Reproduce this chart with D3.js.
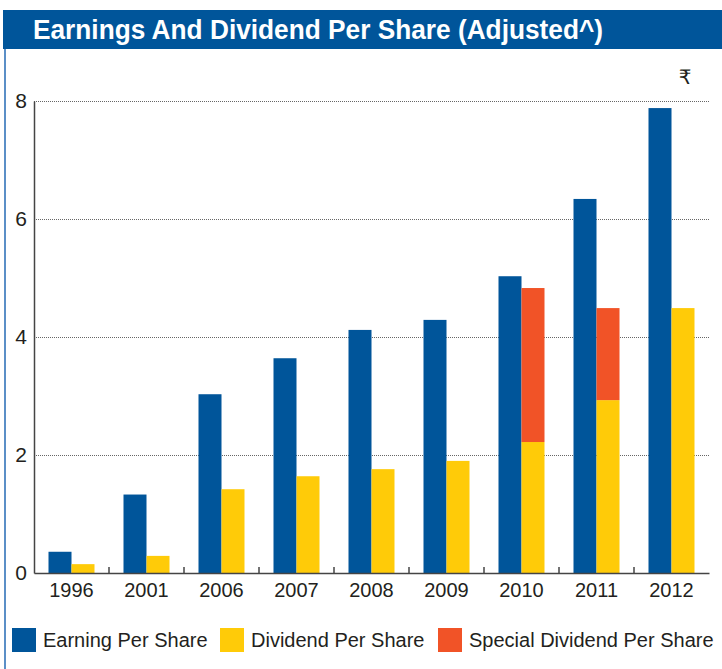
<!DOCTYPE html>
<html>
  <head>
    <meta charset="utf-8">
    <title>Earnings And Dividend Per Share</title>
    <script src="https://d3js.org/d3.v7.min.js"></script>
    <style>
      body { margin: 0; background: #fff; }
      text { font-family: "Liberation Sans", Arial, sans-serif; fill: #231f20; }
    </style>
  </head>
  <body>
    <div id="my_dataviz"></div>
    <script>
    // data
    var years = ["1996", "2001", "2006", "2007", "2008", "2009", "2010", "2011", "2012"]
    var eps = [0.36, 1.33, 3.03, 3.64, 4.12, 4.29, 5.03, 6.34, 7.88]
    var dps = [0.15, 0.29, 1.42, 1.64, 1.76, 1.90, 2.22, 2.93, 4.49]
    var special = [0, 0, 0, 0, 0, 0, 2.61, 1.56, 0]
    var yTicks = [0, 2, 4, 6, 8]
    var legendLabels = ["Earning Per Share", "Dividend Per Share", "Special Dividend Per Share"]

    var blue = "#00559a", yellow = "#ffcb08", orange = "#f15327"
    var width = 722, height = 669

    var svg = d3.select("#my_dataviz")
      .append("svg")
        .attr("width", width)
        .attr("height", height)

    // title band + left frame line
    svg.append("rect")
      .attr("x", 3).attr("y", 10).attr("width", width - 3).attr("height", 39)
      .attr("fill", blue)
    svg.append("text")
      .attr("x", 33).attr("y", 39)
      .attr("textLength", 570)
      .attr("lengthAdjust", "spacingAndGlyphs")
      .style("font-weight", "bold")
      .style("font-size", "27px")
      .style("fill", "#fff")
      .text("Earnings And Dividend Per Share (Adjusted^)")
    svg.append("line")
      .attr("x1", 5).attr("x2", 5).attr("y1", 49).attr("y2", height)
      .attr("stroke", "#5b8fc7").attr("stroke-width", 2)

    var plotLeft = 34, plotRight = 709, plotTop = 101, plotBottom = 573

    var x = d3.scaleBand().domain(years).range([plotLeft, plotRight])
    var y = d3.scaleLinear().domain([0, 8]).range([plotBottom, plotTop])
    var barW = 23

    var g = svg.append("g")

    // dotted gridlines
    g.selectAll(".grid")
      .data(yTicks.filter(function(d) { return d > 0 }))
      .enter().append("line")
        .attr("x1", plotLeft).attr("x2", plotRight)
        .attr("y1", function(d) { return y(d) + 0.5 })
        .attr("y2", function(d) { return y(d) + 0.5 })
        .attr("stroke", "#666")
        .attr("stroke-dasharray", "1,1")

    // y axis
    var yAxis = g.append("g")
      .attr("transform", "translate(" + plotLeft + ",0)")
      .call(d3.axisLeft(y).tickValues(yTicks).tickSize(0).tickPadding(7).tickFormat(d3.format("d")))
    yAxis.select(".domain").attr("stroke", "#444").attr("stroke-width", 1.5)
    yAxis.selectAll("text").style("font-size", "21px").style("fill", "#231f20")
      .attr("font-family", null)

    // bars
    var grp = g.selectAll(".yr")
      .data(years)
      .enter().append("g")
        .attr("transform", function(d) { return "translate(" + (x(d) + x.bandwidth() / 2) + ",0)" })

    grp.append("rect")
      .attr("x", -barW)
      .attr("width", barW)
      .attr("y", function(d, i) { return y(eps[i]) })
      .attr("height", function(d, i) { return plotBottom - y(eps[i]) })
      .attr("fill", blue)
    grp.append("rect")
      .attr("x", 0)
      .attr("width", barW)
      .attr("y", function(d, i) { return y(dps[i]) })
      .attr("height", function(d, i) { return plotBottom - y(dps[i]) })
      .attr("fill", yellow)
    grp.filter(function(d, i) { return special[i] > 0 })
      .append("rect")
      .attr("x", 0)
      .attr("width", barW)
      .attr("y", function(d) { var i = years.indexOf(d); return y(dps[i] + special[i]) })
      .attr("height", function(d) { var i = years.indexOf(d); return y(dps[i]) - y(dps[i] + special[i]) })
      .attr("fill", orange)

    // x axis
    var xAxis = g.append("g")
      .attr("transform", "translate(0," + plotBottom + ")")
      .call(d3.axisBottom(x).tickSize(0).tickPadding(10))
    xAxis.select(".domain").attr("stroke", "#444").attr("stroke-width", 1.5)
    xAxis.selectAll("text").style("font-size", "20px").style("fill", "#231f20")
      .attr("font-family", null)
    // separator ticks between years
    xAxis.selectAll(".sep")
      .data(years.slice(1))
      .enter().append("line")
        .attr("x1", function(d) { return x(d) }).attr("x2", function(d) { return x(d) })
        .attr("y1", 0).attr("y2", -6)
        .attr("stroke", "#444").attr("stroke-width", 1.5)

    // rupee unit
    svg.append("text")
      .attr("x", 685).attr("y", 84)
      .attr("text-anchor", "middle")
      .style("font-family", "'DejaVu Sans', sans-serif")
      .style("font-size", "20px")
      .text("\u20b9")

    // legend
    var legendX = [12, 220, 438]
    var colors = [blue, yellow, orange]
    var leg = svg.selectAll(".leg")
      .data(legendLabels)
      .enter().append("g")
        .attr("transform", function(d, i) { return "translate(" + legendX[i] + ",628)" })
    leg.append("rect")
      .attr("width", 24).attr("height", 24)
      .attr("fill", function(d, i) { return colors[i] })
    leg.append("text")
      .attr("x", 31).attr("y", 19)
      .style("font-size", "20px")
      .text(function(d) { return d })
    </script>
  </body>
</html>
